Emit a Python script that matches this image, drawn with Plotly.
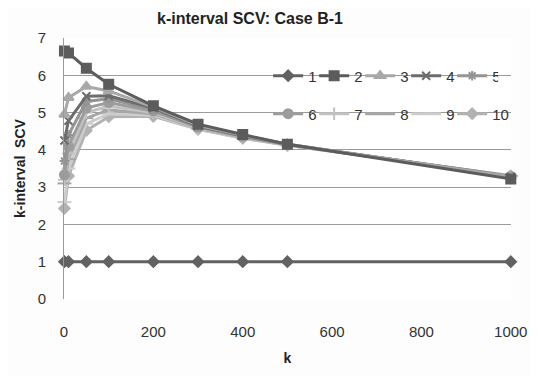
import plotly.graph_objects as go

k = [1, 10, 50, 100, 200, 300, 400, 500, 1000]

s1 = [1.0, 1.0, 1.0, 1.0, 1.0, 1.0, 1.0, 1.0, 1.0]
s2 = [6.65, 6.6, 6.19, 5.76, 5.18, 4.69, 4.41, 4.15, 3.22]
s3 = [4.95, 5.4, 5.7, 5.58, 5.15, 4.66, 4.39, 4.15, 3.28]
s4 = [4.25, 4.78, 5.44, 5.45, 5.12, 4.64, 4.38, 4.15, 3.28]
s5 = [3.7, 4.4, 5.3, 5.37, 5.08, 4.62, 4.37, 4.14, 3.29]
s6 = [3.33, 4.1, 5.12, 5.27, 5.04, 4.61, 4.36, 4.14, 3.29]
s7 = [3.2, 3.9, 5.0, 5.17, 5.0, 4.59, 4.35, 4.13, 3.3]
s8 = [3.1, 3.75, 4.85, 5.07, 4.97, 4.58, 4.34, 4.13, 3.3]
s9 = [2.6, 3.5, 4.7, 4.97, 4.93, 4.56, 4.32, 4.12, 3.3]
s10 = [2.43, 3.3, 4.52, 4.89, 4.9, 4.55, 4.31, 4.12, 3.3]

names = ["1", "2", "3", "4", "5", "6", "7", "8", "9", "10"]
series = [s1, s2, s3, s4, s5, s6, s7, s8, s9, s10]
colors = ["#626262", "#5c5c5c", "#a8a8a8", "#6c6c6c", "#949494",
          "#9c9c9c", "#c2c2c2", "#a6a6a6", "#cdcdcd", "#b2b2b2"]
symbols = ["diamond", "square", "triangle-up", "x-thin-open", "asterisk-open",
           "circle", "cross-thin-open", "line-ew-open", "line-ew-open", "diamond"]
sizes = [8, 9, 9, 8, 8, 9, 9, 10, 10, 8]

FONT = "Liberation Sans Narrow, Liberation Sans, sans-serif"

# the page body adds an 8px offset, so the figure is 531x368 inside a 539x376 window
W, H = 531, 368

# draw lighter series first so darker ones sit on top
draw_order = [9, 8, 7, 6, 5, 4, 3, 2, 1, 0]

fig = go.Figure()
for i in draw_order:
    fig.add_trace(go.Scatter(
        x=k, y=series[i], name=names[i], mode="lines+markers",
        line=dict(color=colors[i], width=3),
        marker=dict(symbol=symbols[i], size=sizes[i], color=colors[i],
                    line=dict(color=colors[i], width=2)),
        legend="legend" if i < 5 else "legend2",
        legendrank=i + 1,
        legendwidth=18 if names[i] == "10" else None,
        cliponaxis=False,
    ))

legend_common = dict(
    orientation="h", xanchor="left", yanchor="middle",
    font=dict(family=FONT, size=15, color="#333333"),
    bgcolor="rgba(0,0,0,0)", borderwidth=0,
    entrywidthmode="pixels", entrywidth=1, itemwidth=30,
    traceorder="normal",
)

PL, PR, PT, PB = 46, 12, 30, 70
pw = W - PL - PR
ph = H - PT - PB

fig.update_layout(
    width=W, height=H,
    margin=dict(l=PL, r=PR, t=PT, b=PB),
    paper_bgcolor="#fdfdfd", plot_bgcolor="#ffffff",
    title=dict(text="<b>k-interval SCV: Case B-1</b>", x=242/W, xanchor="center",
               y=1 - 5/H, yanchor="top",
               font=dict(family=FONT, size=16, color="#222222")),
    xaxis=dict(range=[0, 1000.5], tickvals=[0, 200, 400, 600, 800, 1000],
               showgrid=False, zeroline=False, showline=False,
               ticks="", ticklabelstandoff=22, ticklabeloverflow="allow",
               tickfont=dict(family=FONT, size=15, color="#333333"),
               title=dict(text="<b>k</b>", standoff=14,
                          font=dict(family="Liberation Sans", size=14, color="#222222"))),
    yaxis=dict(range=[0, 7], tickvals=[0, 1, 2, 3, 4, 5, 6, 7],
               showgrid=True, gridcolor="#9a9a9a", gridwidth=1,
               zeroline=False, showline=True, linecolor="#9a9a9a", linewidth=1,
               ticks="", ticklabelstandoff=14,
               tickfont=dict(family=FONT, size=15, color="#333333"),
               title=dict(text="<b>k-interval  SCV</b>", standoff=8,
                          font=dict(family="Liberation Sans", size=14, color="#222222"))),
    legend=dict(x=(270 - 8 - PL) / pw, y=(H - PB - (77 - 8)) / ph, **legend_common),
    legend2=dict(x=(270 - 8 - PL) / pw, y=(H - PB - (116 - 8)) / ph, **legend_common),
)

fig.write_html("out.html")
